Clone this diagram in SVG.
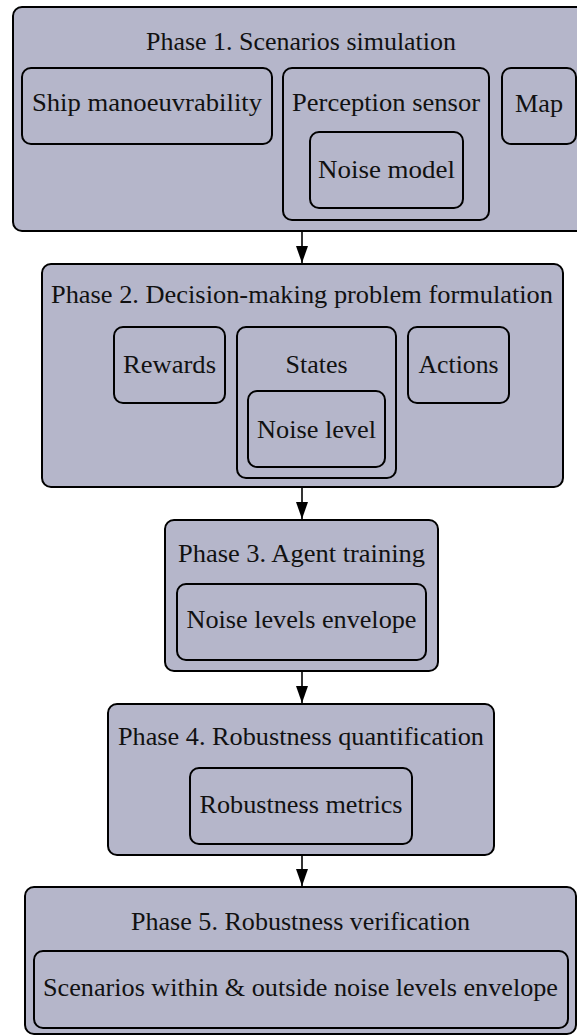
<svg xmlns="http://www.w3.org/2000/svg" width="577" height="1035" viewBox="0 0 577 1035">
<style>
.box{fill:#b5b6ca;stroke:#000;stroke-width:2}
.t{font-family:"Liberation Serif","Times New Roman",serif;font-size:25px;fill:#111;text-anchor:middle}
.c{stroke:#000;stroke-width:1.6;fill:none}
</style>
<defs>
<marker id="ah" viewBox="0 0 17 12" refX="17" refY="6" markerWidth="17" markerHeight="12" markerUnits="userSpaceOnUse" orient="auto">
<path d="M0,0 L17,6 L0,12 Z" fill="#000"/>
</marker>
</defs>
<rect width="577" height="1035" fill="#fff"/>
<g id="connectors">
<line class="c" x1="302" y1="231" x2="302" y2="263" marker-end="url(#ah)"/>
<line class="c" x1="302" y1="487" x2="302" y2="519" marker-end="url(#ah)"/>
<line class="c" x1="302" y1="671" x2="302" y2="703" marker-end="url(#ah)"/>
<line class="c" x1="302" y1="855" x2="302" y2="886" marker-end="url(#ah)"/>
</g>
<g id="phase1">
<rect class="box" x="13" y="7" width="580" height="224" rx="9"/>
<text class="t" x="301" y="50" textLength="310" lengthAdjust="spacingAndGlyphs">Phase 1. Scenarios simulation</text>
</g>
<g id="ship">
<rect class="box" x="22" y="68" width="250" height="76" rx="9"/>
<text class="t" x="147" y="111" textLength="230" lengthAdjust="spacingAndGlyphs">Ship manoeuvrability</text>
</g>
<g id="perception">
<rect class="box" x="283" y="68" width="206" height="152" rx="9"/>
<text class="t" x="386" y="111" textLength="188" lengthAdjust="spacingAndGlyphs">Perception sensor</text>
</g>
<g id="noisemodel">
<rect class="box" x="310" y="132" width="153" height="76" rx="9"/>
<text class="t" x="386.5" y="178" textLength="137" lengthAdjust="spacingAndGlyphs">Noise model</text>
</g>
<g id="map">
<rect class="box" x="502" y="68" width="74" height="76" rx="9"/>
<text class="t" x="539" y="112" textLength="48" lengthAdjust="spacingAndGlyphs">Map</text>
</g>
<g id="phase2">
<rect class="box" x="42" y="264" width="521" height="223" rx="9"/>
<text class="t" x="302" y="303" textLength="502" lengthAdjust="spacingAndGlyphs">Phase 2. Decision-making problem formulation</text>
</g>
<g id="rewards">
<rect class="box" x="114" y="327" width="111" height="76" rx="9"/>
<text class="t" x="169.5" y="373" textLength="93" lengthAdjust="spacingAndGlyphs">Rewards</text>
</g>
<g id="states">
<rect class="box" x="237" y="327" width="159" height="151" rx="9"/>
<text class="t" x="316.5" y="373" textLength="62" lengthAdjust="spacingAndGlyphs">States</text>
</g>
<g id="noiselevel">
<rect class="box" x="248" y="391" width="137" height="76" rx="9"/>
<text class="t" x="316.5" y="438" textLength="119" lengthAdjust="spacingAndGlyphs">Noise level</text>
</g>
<g id="actions">
<rect class="box" x="408" y="327" width="101" height="76" rx="9"/>
<text class="t" x="458.5" y="373" textLength="80" lengthAdjust="spacingAndGlyphs">Actions</text>
</g>
<g id="phase3">
<rect class="box" x="165" y="520" width="273" height="151" rx="9"/>
<text class="t" x="301.5" y="562" textLength="247" lengthAdjust="spacingAndGlyphs">Phase 3. Agent training</text>
</g>
<g id="envelope">
<rect class="box" x="177" y="584" width="249" height="76" rx="9"/>
<text class="t" x="301.5" y="628" textLength="230" lengthAdjust="spacingAndGlyphs">Noise levels envelope</text>
</g>
<g id="phase4">
<rect class="box" x="108" y="704" width="386" height="151" rx="9"/>
<text class="t" x="301" y="745" textLength="366" lengthAdjust="spacingAndGlyphs">Phase 4. Robustness quantification</text>
</g>
<g id="metrics">
<rect class="box" x="190" y="768" width="222" height="76" rx="9"/>
<text class="t" x="301" y="813" textLength="203" lengthAdjust="spacingAndGlyphs">Robustness metrics</text>
</g>
<g id="phase5">
<rect class="box" x="25" y="887" width="551" height="147" rx="9"/>
<text class="t" x="300.5" y="930" textLength="339" lengthAdjust="spacingAndGlyphs">Phase 5. Robustness verification</text>
</g>
<g id="scenarios">
<rect class="box" x="34" y="951" width="534" height="77" rx="9"/>
<text class="t" x="300.5" y="996" textLength="515" lengthAdjust="spacingAndGlyphs">Scenarios within &amp; outside noise levels envelope</text>
</g>
</svg>
